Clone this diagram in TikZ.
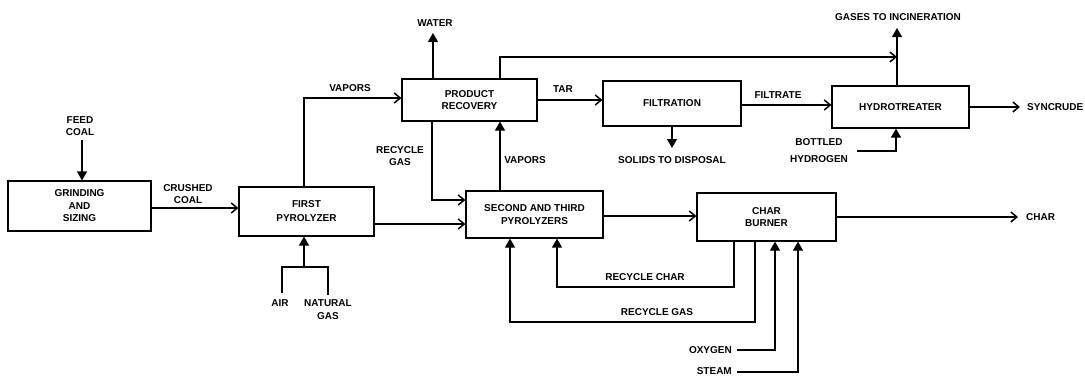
\documentclass[tikz,border=0pt]{standalone}
\usepackage{fontspec}
\setmainfont{Liberation Sans}
\usetikzlibrary{arrows.meta}
\begin{document}
\begin{tikzpicture}[x=1pt,y=-1pt,
  every node/.style={font=\bfseries\fontsize{10}{12.5}\selectfont, inner sep=0pt},
  box/.style={draw, line width=1.2pt, align=center, inner sep=0pt},
  flow/.style={line width=1.2pt},
  barb/.style={flow, -{Straight Barb[length=6pt,width=10pt,line width=1.5pt]}},
  tri/.style={flow, -{Triangle[length=9pt,width=10pt]}},
  lbl/.style={align=center}]
\useasboundingbox (0,0) rectangle (1085,376);
% boxes
\node[box, minimum width=143pt, minimum height=50pt] (gs) at (79.5,206) {GRINDING\\AND\\SIZING};
\node[box, minimum width=135pt, minimum height=49pt] (fp) at (306.5,211.5) {FIRST\\[1.5pt]PYROLYZER};
\node[box, minimum width=135pt, minimum height=42pt] (pr) at (469.5,100) {PRODUCT\\RECOVERY};
\node[box, minimum width=138pt, minimum height=45pt] (fi) at (672,103.5) {FILTRATION};
\node[box, minimum width=137pt, minimum height=42pt] (ht) at (900.5,107) {HYDROTREATER};
\node[box, minimum width=137pt, minimum height=47pt] (st) at (534.5,214.5) {SECOND AND THIRD\\PYROLYZERS};
\node[box, minimum width=139pt, minimum height=48pt] (cb) at (766.5,217) {CHAR\\BURNER};
% coordinates
\coordinate (feed) at (82,140);
\coordinate (vx) at (304,0);
\coordinate (water) at (433,33);
\coordinate (gtop) at (500,57);
\coordinate (gas) at (897,28);
\coordinate (solids) at (672,148);
\coordinate (sync) at (1020,107);
\coordinate (bh) at (857,151);
\coordinate (bhx) at (896,151);
\coordinate (rgx) at (432,200);
\coordinate (vx2) at (500,0);
\coordinate (an) at (304,267);
\coordinate (air) at (282,293);
\coordinate (ng) at (328,295);
\coordinate (charout) at (1018,217);
\coordinate (rc1) at (734,287);
\coordinate (rc2) at (557,287);
\coordinate (rg1) at (755,322);
\coordinate (rg2) at (510,322);
\coordinate (ox1) at (737,350);
\coordinate (ox2) at (775,350);
\coordinate (sm1) at (737,372);
\coordinate (sm2) at (798,372);
% connectors
\draw[tri] (feed) -- (feed |- gs.north);
\draw[barb] ([yshift=-2pt]gs.east) -- ([yshift=-2pt]gs.east -| fp.west);
\draw[barb] (vx |- fp.north) |- ([yshift=2pt]pr.west);
\draw[tri] (water |- pr.north) -- (water);
\draw[barb] (gtop |- pr.north) -- (gtop) -- (gtop -| gas);
\draw[tri] (gas |- ht.north) -- (gas);
\draw[barb] (pr.east) -- (pr.east -| fi.west);
\draw[barb] ([yshift=-1.5pt]fi.east) -- ([yshift=-1.5pt]fi.east -| ht.west);
\draw[tri] (fi.south) -- (solids);
\draw[barb] (ht.east) -- (sync);
\draw[tri] (bh) -- (bhx) -- (bhx |- ht.south);
\draw[barb] (rgx |- pr.south) -- (rgx) -- (rgx -| st.west);
\draw[tri] (vx2 |- st.north) -- (vx2 |- pr.south);
\draw[barb] ([yshift=-12.5pt]fp.east) -- ([yshift=-12.5pt]fp.east -| st.west);
\draw[flow] (air) -- (air |- an) -- (ng |- an) -- (ng);
\draw[tri] (an) -- (an |- fp.south);
\draw[barb] ([yshift=-1.5pt]st.east) -- ([yshift=-1.5pt]st.east -| cb.west);
\draw[barb] (cb.east) -- (charout);
\draw[tri] (rc1 |- cb.south) -- (rc1) -- (rc2) -- (rc2 |- st.south);
\draw[tri] (rg1 |- cb.south) -- (rg1) -- (rg2) -- (rg2 |- st.south);
\draw[tri] (ox1) -- (ox2) -- (ox2 |- cb.south);
\draw[tri] (sm1) -- (sm2) -- (sm2 |- cb.south);
% labels
\node[lbl] (lfeed) at (80,126) {FEED\\COAL};
\node[lbl] (lcrush) at (188,194) {CRUSHED\\COAL};
\node[lbl] (lvap1) at (350,88) {VAPORS};
\node[lbl] (lrg1) at (400,156) {RECYCLE\\GAS};
\node[lbl] (lwater) at (435,23) {WATER};
\node[lbl] (ltar) at (563,89) {TAR};
\node[lbl] (lfilt) at (778,95) {FILTRATE};
\node[lbl] (lgas) at (898,17) {GASES TO INCINERATION};
\node[anchor=west] (lsync) at (1027,107) {SYNCRUDE};
\node[lbl] (lbh) at (819,150.5) {BOTTLED\\[4.5pt]HYDROGEN};
\node[lbl] (lsol) at (672,160) {SOLIDS TO DISPOSAL};
\node[lbl] (lvap2) at (525,160) {VAPORS};
\node[lbl] (lair) at (280,303) {AIR};
\node[lbl] (lng) at (328,309.5) {NATURAL\\GAS};
\node[lbl] (lrc) at (645,277) {RECYCLE CHAR};
\node[lbl] (lrg2) at (657,312) {RECYCLE GAS};
\node[anchor=east] (lox) at (732,350) {OXYGEN};
\node[anchor=east] (lsteam) at (732,371) {STEAM};
\node[anchor=west] (lchar) at (1026,217) {CHAR};
\end{tikzpicture}
\end{document}
